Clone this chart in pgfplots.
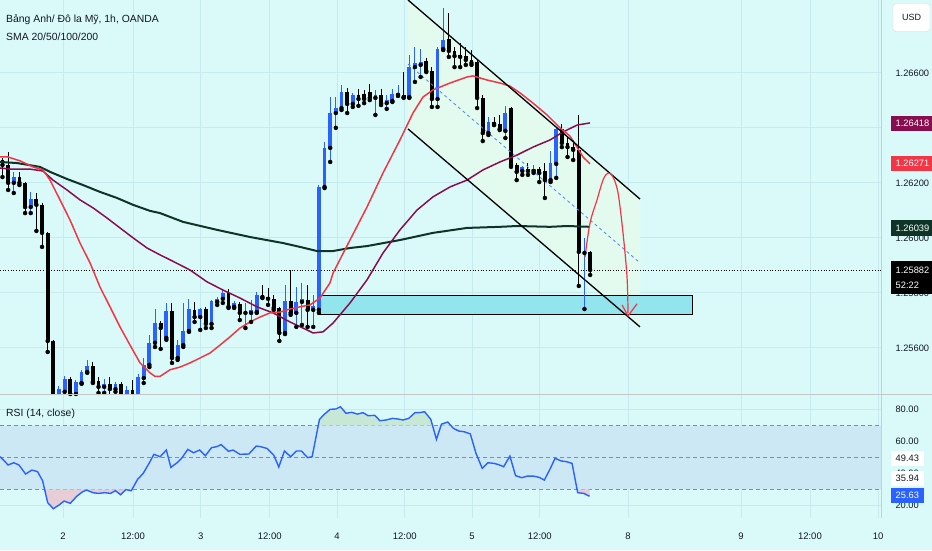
\documentclass[border=0pt]{standalone}
\usepackage{fontspec}
\setmainfont{Liberation Sans}
\usepackage{pgfplots}
\usepackage{pgfplotstable}
\pgfplotsset{compat=1.18}
\definecolor{bg}{RGB}{218,250,250}
\definecolor{gridc}{RGB}{198,234,238}
\definecolor{tvblue}{RGB}{41,98,255}
\definecolor{smared}{RGB}{242,54,69}
\definecolor{smamaroon}{RGB}{136,14,79}
\definecolor{smagreen}{RGB}{14,52,40}
\definecolor{boxcyan}{RGB}{146,229,237}
\definecolor{mint}{RGB}{226,251,238}
\definecolor{bandc}{RGB}{204,232,244}
\definecolor{txt}{RGB}{19,23,34}
\definecolor{dashg}{RGB}{135,140,150}
\definecolor{obc}{RGB}{200,232,214}
\definecolor{osc}{RGB}{230,205,214}
\definecolor{chdash}{RGB}{80,130,255}

\pgfplotstableread{
x o h l c
0 1.26283 1.26290 1.26221 1.26265
1 1.26265 1.26312 1.26174 1.26200
2 1.26200 1.26240 1.26163 1.26221
3 1.26221 1.26240 1.26192 1.26200
4 1.26200 1.26203 1.26090 1.26112
5 1.26112 1.26167 1.26090 1.26141
6 1.26141 1.26163 1.26025 1.26120
7 1.26120 1.26127 1.25967 1.26018
8 1.26018 1.26021 1.25585 1.25625
9 1.25625 1.25629 1.25374 1.25410
10 1.25418 1.25461 1.25403 1.25450
11 1.25440 1.25498 1.25418 1.25487
12 1.25487 1.25494 1.25418 1.25432
13 1.25432 1.25483 1.25418 1.25476
14 1.25472 1.25520 1.25469 1.25512
15 1.25512 1.25556 1.25509 1.25534
16 1.25534 1.25549 1.25472 1.25476
17 1.25480 1.25494 1.25436 1.25458
18 1.25458 1.25487 1.25436 1.25469
19 1.25469 1.25494 1.25429 1.25450
20 1.25450 1.25476 1.25440 1.25469
21 1.25469 1.25476 1.25418 1.25429
22 1.25425 1.25461 1.25410 1.25447
23 1.25447 1.25483 1.25407 1.25425
24 1.25429 1.25505 1.25425 1.25494
25 1.25490 1.25563 1.25472 1.25538
26 1.25538 1.25647 1.25530 1.25618
27 1.25618 1.25741 1.25603 1.25690
28 1.25690 1.25698 1.25596 1.25672
29 1.25636 1.25763 1.25629 1.25734
30 1.25734 1.25763 1.25545 1.25563
31 1.25563 1.25629 1.25556 1.25610
32 1.25610 1.25763 1.25603 1.25661
33 1.25661 1.25778 1.25658 1.25741
34 1.25738 1.25767 1.25694 1.25712
35 1.25712 1.25745 1.25665 1.25741
36 1.25741 1.25749 1.25672 1.25687
37 1.25687 1.25774 1.25672 1.25770
38 1.25767 1.25785 1.25756 1.25778
39 1.25778 1.25814 1.25763 1.25800
40 1.25800 1.25814 1.25745 1.25749
41 1.25749 1.25770 1.25745 1.25763
42 1.25760 1.25767 1.25701 1.25727
43 1.25727 1.25763 1.25672 1.25734
44 1.25727 1.25774 1.25694 1.25738
45 1.25730 1.25803 1.25727 1.25792
46 1.25792 1.25829 1.25781 1.25785
47 1.25785 1.25818 1.25756 1.25778
48 1.25778 1.25792 1.25738 1.25745
49 1.25745 1.25749 1.25625 1.25654
50 1.25654 1.25829 1.25650 1.25770
51 1.25770 1.25883 1.25720 1.25727
52 1.25727 1.25821 1.25676 1.25767
53 1.25767 1.25836 1.25683 1.25778
54 1.25774 1.25829 1.25676 1.25738
55 1.25738 1.25792 1.25676 1.25752
56 1.25738 1.26192 1.25727 1.26185
57 1.26185 1.26349 1.26181 1.26327
58 1.26327 1.26512 1.26276 1.26454
59 1.26454 1.26512 1.26400 1.26472
60 1.26472 1.26556 1.26465 1.26530
61 1.26530 1.26545 1.26454 1.26487
62 1.26487 1.26527 1.26476 1.26520
63 1.26520 1.26541 1.26480 1.26505
64 1.26523 1.26538 1.26490 1.26505
65 1.26530 1.26560 1.26501 1.26509
66 1.26509 1.26538 1.26447 1.26520
67 1.26520 1.26541 1.26483 1.26490
68 1.26490 1.26520 1.26469 1.26501
69 1.26498 1.26541 1.26494 1.26523
70 1.26520 1.26556 1.26516 1.26527
71 1.26520 1.26603 1.26509 1.26512
72 1.26512 1.26665 1.26509 1.26621
73 1.26621 1.26694 1.26567 1.26636
74 1.26629 1.26687 1.26585 1.26640
75 1.26643 1.26654 1.26603 1.26607
76 1.26607 1.26621 1.26476 1.26505
77 1.26505 1.26694 1.26476 1.26687
78 1.26687 1.26836 1.26683 1.26720
79 1.26723 1.26818 1.26658 1.26680
80 1.26680 1.26694 1.26621 1.26661
81 1.26665 1.26709 1.26621 1.26658
82 1.26661 1.26694 1.26629 1.26647
83 1.26647 1.26683 1.26629 1.26636
84 1.26640 1.26647 1.26472 1.26509
85 1.26509 1.26520 1.26352 1.26381
86 1.26381 1.26440 1.26374 1.26421
87 1.26421 1.26440 1.26410 1.26414
88 1.26414 1.26447 1.26392 1.26396
89 1.26389 1.26480 1.26363 1.26454
90 1.26472 1.26476 1.26258 1.26265
91 1.26265 1.26272 1.26210 1.26240
92 1.26243 1.26262 1.26229 1.26258
93 1.26250 1.26272 1.26229 1.26243
94 1.26243 1.26265 1.26236 1.26250
95 1.26250 1.26258 1.26203 1.26236
96 1.26243 1.26272 1.26145 1.26210
97 1.26210 1.26316 1.26203 1.26272
98 1.26269 1.26403 1.26218 1.26396
99 1.26396 1.26414 1.26330 1.26345
100 1.26345 1.26367 1.26294 1.26330
101 1.26330 1.26356 1.26283 1.26320
102 1.26320 1.26447 1.25825 1.25949
103 1.25945 1.26000 1.25741 1.25952
104 1.25949 1.25952 1.25865 1.25883
}\candles

\pgfplotstableread{
x y
-0.44 1.26294
0.97 1.26294
3.10 1.26280
5.40 1.26258
7.17 1.26247
8.41 1.26210
10.18 1.26138
11.95 1.26065
13.72 1.25981
15.49 1.25909
17.26 1.25821
19.03 1.25749
20.80 1.25676
22.57 1.25610
24.34 1.25545
26.11 1.25509
27.00 1.25496
27.88 1.25496
29.65 1.25520
31.42 1.25530
33.19 1.25545
34.96 1.25563
36.73 1.25581
38.50 1.25610
40.27 1.25640
42.04 1.25672
43.81 1.25694
45.58 1.25712
47.35 1.25727
49.12 1.25730
50.88 1.25741
52.65 1.25749
54.42 1.25756
56.19 1.25781
57.96 1.25836
58.50 1.25872
61.50 1.25992
64.51 1.26112
67.35 1.26236
70.35 1.26356
72.65 1.26454
74.42 1.26512
76.19 1.26538
79.20 1.26563
82.21 1.26585
83.27 1.26589
85.75 1.26574
88.05 1.26563
89.82 1.26552
91.59 1.26527
93.89 1.26490
96.37 1.26447
98.67 1.26400
100.44 1.26370
101.68 1.26330
102.74 1.26294
103.98 1.26269
}\smaA

\pgfplotstableread{
x y
-0.44 1.26254
1.33 1.26250
4.87 1.26250
7.17 1.26243
8.94 1.26210
11.42 1.26174
13.72 1.26138
16.02 1.26109
18.50 1.26072
20.80 1.26036
23.10 1.26000
25.58 1.25963
27.88 1.25938
29.65 1.25920
33.19 1.25883
36.19 1.25840
39.03 1.25810
42.04 1.25781
45.04 1.25749
47.88 1.25727
50.88 1.25694
53.89 1.25665
54.96 1.25654
56.73 1.25658
58.50 1.25690
61.50 1.25763
64.51 1.25847
67.35 1.25945
70.35 1.26029
73.36 1.26101
76.19 1.26149
79.20 1.26185
82.21 1.26210
85.04 1.26247
88.05 1.26276
91.06 1.26301
93.89 1.26330
96.90 1.26356
99.20 1.26385
101.68 1.26410
103.98 1.26418
}\smaB

\pgfplotstableread{
x y
-0.44 1.26276
2.57 1.26272
6.64 1.26258
8.41 1.26240
11.42 1.26214
14.25 1.26192
17.26 1.26167
20.27 1.26145
23.10 1.26120
26.11 1.26098
27.88 1.26090
31.95 1.26058
37.96 1.26029
43.81 1.26003
49.65 1.25981
52.65 1.25967
55.66 1.25952
58.50 1.25952
61.50 1.25963
64.51 1.25970
70.35 1.25992
76.19 1.26018
82.21 1.26036
88.05 1.26040
91.06 1.26043
96.90 1.26040
99.91 1.26043
103.98 1.26040
}\smaC

\pgfplotstableread{
x y
-0.4 50.5
1.0 45.3
2.0 46.7
2.9 45.3
4.1 39.6
5.2 42.1
6.2 41.1
7.1 35.4
8.0 21.6
9.0 17.8
10.0 20.1
10.9 22.6
12.0 21.2
13.2 25.8
14.2 28.5
14.9 29.5
16.0 27.9
17.0 27.4
18.1 27.9
19.1 27.4
20.0 29.1
20.9 26.6
21.8 29.8
22.8 29.1
23.9 36.2
24.9 40.0
26.0 46.7
26.8 52.0
27.9 50.5
29.0 54.7
29.8 43.8
30.9 46.7
31.7 49.5
32.8 55.1
33.8 53.0
34.9 54.7
35.9 51.1
37.0 56.2
37.9 56.8
38.7 58.1
40.0 53.9
40.8 54.7
42.0 52.0
43.6 52.2
44.9 57.2
45.7 56.8
46.8 55.7
48.0 51.6
48.9 44.0
49.9 54.1
51.0 50.5
52.0 54.1
52.9 54.1
54.0 49.9
54.8 50.5
56.1 74.0
57.0 77.3
58.0 80.3
59.0 80.5
59.8 81.9
60.8 77.8
61.8 78.4
62.8 77.3
63.8 78.2
64.7 76.3
65.9 76.5
66.8 73.1
67.9 73.6
69.0 74.6
70.0 74.2
70.9 73.6
71.9 74.6
73.0 78.2
73.8 78.2
74.7 78.8
75.8 74.0
76.8 61.4
77.7 71.0
78.8 72.3
79.8 68.3
80.8 66.6
81.7 66.2
82.8 64.8
83.8 52.6
84.9 43.2
85.9 46.7
87.0 46.3
87.8 45.5
88.7 44.2
89.8 50.9
90.8 38.6
91.9 37.3
92.9 38.3
94.0 38.3
95.0 37.5
95.9 35.8
96.9 42.7
97.8 49.5
98.9 47.8
99.8 47.4
100.8 46.3
101.8 27.9
102.9 27.4
103.9 25.6
}\rsitab

\pgfplotsset{
  tvbase/.style={
    scale only axis, width=881pt,
    xmin=-0.44, xmax=155.48,
    axis line style={draw=none}, major tick length=0pt,
    xtick={10.7,23.1,35.1,47.3,59.2,71.2,83.1,95.1,110.7,130.7,142.9,154.96},
    grid=major, grid style={gridc, line width=0.8pt},
    yticklabel pos=right,
    yticklabel style={anchor=west, xshift=11pt, font=\fontsize{9.3}{11}\selectfont, text=txt},
    /pgf/number format/assume math mode=true,
    scaled y ticks=false,
  },
  wick/.style={only marks, mark=none, forget plot,
    error bars/y dir=plus, error bars/y explicit, error bars/error mark=none,
    error bars/error bar style={#1, line width=1pt}},
  body/.style={only marks, mark=none, forget plot,
    error bars/y dir=plus, error bars/y explicit, error bars/error mark=none,
    error bars/error bar style={#1, line width=3.8pt}},
}

\begin{document}
\begin{tikzpicture}[x=1pt,y=1pt]
\fill[bg] (0,0) rectangle (932,550);
\useasboundingbox (0,0) rectangle (932,550);

% ---------- main price panel ----------
\begin{axis}[tvbase, at={(0pt,156pt)}, anchor=south west, height=394pt,
  ymin=1.25432, ymax=1.26865,
  ytick={1.256,1.258,1.260,1.262,1.264,1.266},
  yticklabels={1.25600,1.25800,1.26000,1.26200,,1.26600},
  xticklabels={},
]
% channel fill and support box
\addplot[draw=none, fill=mint, forget plot] coordinates {(71.77,1.26865) (112.83,1.26141) (112.83,1.25676) (71.77,1.26396) (71.77,1.26865)};
\addplot[fill=boxcyan, draw=black, line width=0.9pt, forget plot] coordinates {(55.84,1.25792) (122.04,1.25792) (122.04,1.25720) (55.84,1.25720) (55.84,1.25792)};
% current price dotted line
\addplot[black, dotted, line width=0.7pt, forget plot] coordinates {(-0.44,1.25882) (155.48,1.25882)};
% candles: wicks
\addplot[restrict expr to domain={\thisrow{c}-\thisrow{o}}{0:1}, wick=tvblue]
  table[x=x, y=l, y error plus expr={\thisrow{h}-\thisrow{l}}]{\candles};
\addplot[restrict expr to domain={\thisrow{o}-\thisrow{c}}{0:1}, wick=black]
  table[x=x, y=l, y error plus expr={\thisrow{h}-\thisrow{l}}]{\candles};
% candles: bodies
\addplot[restrict expr to domain={\thisrow{c}-\thisrow{o}}{0:1}, body=tvblue]
  table[x=x, y=o, y error plus expr={\thisrow{c}-\thisrow{o}}]{\candles};
\addplot[restrict expr to domain={\thisrow{o}-\thisrow{c}}{0:1}, body=black]
  table[x=x, y=c, y error plus expr={\thisrow{o}-\thisrow{c}}]{\candles};
% moving averages
\addplot[smagreen, line width=2pt] table[x=x,y=y]{\smaC};
\addplot[smamaroon, line width=1.5pt] table[x=x,y=y]{\smaB};
\addplot[smared, line width=1.5pt] table[x=x,y=y]{\smaA};
% channel lines
\addplot[black, line width=1.3pt] coordinates {(71.77,1.26865) (112.83,1.26141)};
\addplot[black, line width=1.3pt] coordinates {(71.77,1.26396) (112.83,1.25676)};
\addplot[chdash, line width=0.8pt, dash pattern=on 3pt off 3pt] coordinates {(71.77,1.26632) (112.83,1.25909)};
% projected path arrow
\addplot[smared, line width=1.2pt, smooth, tension=0.55] coordinates {
 (103.1,1.25930) (103.98,1.26054) (105.22,1.26138) (106.28,1.26210) (107.17,1.26236)
 (108.05,1.26221) (108.94,1.26163) (109.82,1.26018) (110.53,1.25858) (110.71,1.25727)};
\addplot[smared, line width=1.2pt] coordinates {(109.65,1.25756) (110.71,1.25716) (112.3,1.25760)};
\end{axis}

% ---------- RSI panel ----------
\begin{axis}[tvbase, at={(0pt,32pt)}, anchor=south west, height=123pt,
  ymin=11.95, ymax=89.3,
  ytick={20,40,60,80},
  yticklabels={20.00,40.00,60.00,80.00},
  xticklabels={2,12:00,3,12:00,4,12:00,5,12:00,8,9,12:00,10},
  xticklabel style={anchor=base, yshift=-21pt, font=\fontsize{9.5}{11}\selectfont, text=txt},
]
\addplot[draw=none, fill=bandc, forget plot] coordinates {(-0.44,30) (155.48,30) (155.48,70) (-0.44,70) (-0.44,30)};
\addplot[dashg, line width=0.8pt, dash pattern=on 4pt off 3pt] coordinates {(-0.44,70) (155.48,70)};
\addplot[dashg, line width=0.8pt, dash pattern=on 4pt off 3pt] coordinates {(-0.44,50) (155.48,50)};
\addplot[dashg, line width=0.8pt, dash pattern=on 4pt off 3pt] coordinates {(-0.44,30) (155.48,30)};
% overbought / oversold fills (RSI line beyond the 70 / 30 levels)
\addplot[draw=none, fill=obc] coordinates {(55.88,70) (56.1,74.0) (57.0,77.3) (58.0,80.3) (59.0,80.5) (59.8,81.9) (60.8,77.8) (61.8,78.4) (62.8,77.3) (63.8,78.2) (64.7,76.3) (65.9,76.5) (66.8,73.1) (67.9,73.6) (69.0,74.6) (70.0,74.2) (70.9,73.6) (71.9,74.6) (73.0,78.2) (73.8,78.2) (74.7,78.8) (75.8,74.0) (76.12,70) (55.88,70)};
\addplot[draw=none, fill=obc] coordinates {(77.61,70) (77.7,71.0) (78.8,72.3) (79.38,70) (77.61,70)};
\addplot[draw=none, fill=osc] coordinates {(7.45,30) (8.0,21.6) (9.0,17.8) (10.0,20.1) (10.9,22.6) (12.0,21.2) (13.2,25.8) (14.2,28.5) (14.9,29.5) (16.0,27.9) (17.0,27.4) (18.1,27.9) (19.1,27.4) (20.0,29.1) (20.9,26.6) (21.8,29.8) (22.8,29.1) (22.94,30) (7.45,30)};
\addplot[draw=none, fill=osc] coordinates {(101.69,30) (101.8,27.9) (102.9,27.4) (103.9,25.6) (103.9,30) (101.69,30)};
\addplot[tvblue, line width=1.4pt] table[x=x,y=y]{\rsitab};
\end{axis}

% separators
\draw[gridc!80!gray, line width=0.8pt] (881,32) -- (881,550);
\draw[gray!45, line width=1pt] (0,155.5) -- (932,155.5);

% titles
\node[anchor=west, inner sep=0, text=txt, font=\fontsize{10.4}{12}\selectfont] at (6,530) {Bảng Anh/ Đô la Mỹ, 1h, OANDA};
\node[anchor=west, inner sep=0, text=txt, font=\fontsize{10.4}{12}\selectfont] at (6,513) {SMA 20/50/100/200};
\node[anchor=west, inner sep=0, text=txt, font=\fontsize{10.4}{12}\selectfont] at (6,136) {RSI (14, close)};

% right-side tags
\filldraw[fill=white, draw=gray!30, rounded corners=3pt] (893,518.5) rectangle (930,546.5);
\node[text=txt, font=\fontsize{9}{10}\selectfont] at (911.5,532.5) {USD};
\def\tagfont{\fontsize{9.3}{11}\selectfont}
\fill[smamaroon] (891,419) rectangle (932,434);
\node[anchor=west, inner sep=0, text=white, font=\tagfont] at (895.5,426.5) {1.26418};
\fill[smared] (891,379) rectangle (932,394);
\node[anchor=west, inner sep=0, text=white, font=\tagfont] at (895.5,386.5) {1.26271};
\fill[smagreen] (891,314) rectangle (932,330);
\node[anchor=west, inner sep=0, text=white, font=\tagfont] at (895.5,322) {1.26039};
\fill[black] (891,256) rectangle (932,289);
\node[anchor=west, inner sep=0, text=white, font=\tagfont] at (895.5,280) {1.25882};
\node[anchor=west, inner sep=0, text=white, font=\tagfont] at (895.5,265) {52:22};
\fill[white] (891,84) rectangle (924,99);
\node[anchor=west, inner sep=0, text=txt, font=\tagfont] at (895.5,91.5) {49.43};
\fill[white] (891,64) rectangle (924,79);
\node[anchor=west, inner sep=0, text=txt, font=\tagfont] at (895.5,71.5) {35.94};
\fill[tvblue] (891,47) rectangle (924,62);
\node[anchor=west, inner sep=0, text=white, font=\tagfont] at (895.5,54.5) {25.63};
\end{tikzpicture}
\end{document}
